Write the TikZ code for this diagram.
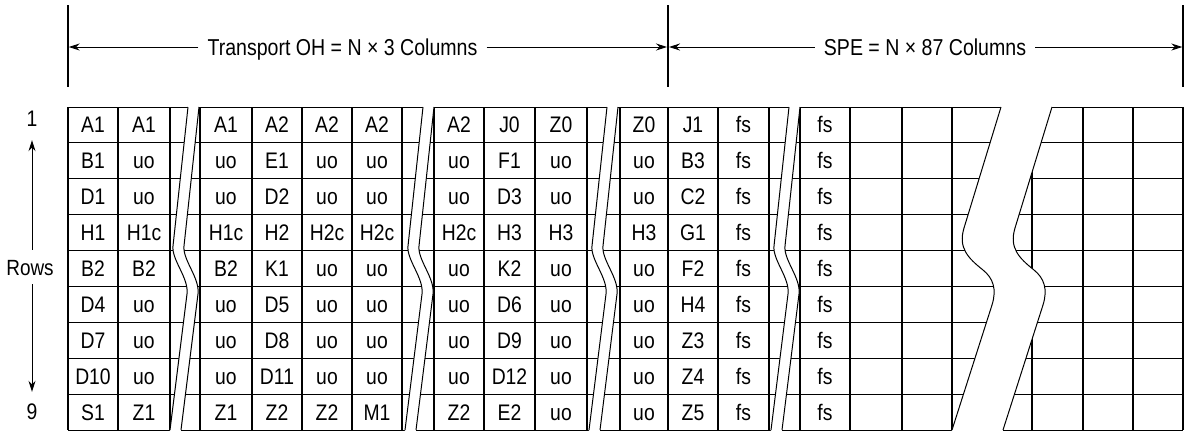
\documentclass[tikz,border=0pt]{standalone}
\usepackage{fontspec}
\setmainfont{Liberation Sans}
\newfontfamily\cellfont{Liberation Sans}[FakeStretch=0.86]
\newfontfamily\headfont{Liberation Sans}[FakeStretch=0.85]
\usetikzlibrary{arrows.meta}

% small break pair: line A starts at top x=#1, line B is A shifted by 11
\newcommand{\brkpair}[1]{%
  \fill[white] (#1+0.3,103) -- (#1,107) -- (#1-15,246)
     .. controls (#1-16.5,260) and (#1+1,278) .. (#1-1,294) -- (#1-18,430) -- (#1-18.4,434)
     -- (#1-7.4,434) -- (#1-7,430) -- (#1+10,294)
     .. controls (#1+12,278) and (#1-5.5,260) .. (#1-4,246) -- (#1+11,107) -- (#1+11.3,103) -- cycle;
  \draw[brk] (#1,107) -- (#1-15,246)
     .. controls (#1-16.5,260) and (#1+1,278) .. (#1-1,294) -- (#1-18,430);
  \draw[brk] (#1+11,107) -- (#1-4,246)
     .. controls (#1-5.5,260) and (#1+12,278) .. (#1+10,294) -- (#1-7,430);
}

\begin{document}
\begin{tikzpicture}[x=1pt,y=-1pt,
  cell/.style={font=\cellfont\fontsize{22.5}{22.5}\selectfont, inner sep=0pt, text height=16pt, text depth=0pt, anchor=center},
  head/.style={font=\headfont\fontsize{23}{23}\selectfont, inner xsep=9pt, inner ysep=0pt, text height=16.5pt, text depth=0pt},
  hgrid/.style={line width=0.9pt},
  vgrid/.style={line width=1.3pt},
  brk/.style={line width=1pt},
  dim/.style={line width=0.9pt},
  tick/.style={line width=1.4pt},
  tip/.style={-{Stealth[length=11pt,width=7pt]}},
]
\useasboundingbox (0,0) rectangle (1184,432);

% ---------- grid ----------
\foreach \i in {0,...,9} {
  \draw[hgrid] (68,{107+35.9*\i}) -- (1183,{107+35.9*\i});
}
\foreach \x in {68,118,170,200,252,302,352,402,434,484,535,587,620,718,769,800,850,902,952,1032,1083,1133,1183} {
  \draw[vgrid] (\x,107) -- (\x,430.1);
}
\draw[line width=2.6pt] (668,107) -- (668,430.1);

% ---------- breaks ----------
\brkpair{188}
\brkpair{423}
\brkpair{607}
\brkpair{789}

\fill[white] (1001.3,103) -- (1001,107) -- (964,228) .. controls (958,248) and (968,258) .. (983,270)
   .. controls (993,278) and (997,289) .. (992,305) -- (952,430) -- (951.6,434)
   -- (1002.6,434) -- (1003,430) -- (1043,305) .. controls (1048,289) and (1044,278) .. (1034,270)
   .. controls (1019,258) and (1009,248) .. (1015,228) -- (1052,107) -- (1052.3,103) -- cycle;
\draw[brk] (1001,107) -- (964,228) .. controls (958,248) and (968,258) .. (983,270)
   .. controls (993,278) and (997,289) .. (992,305) -- (952,430);
\draw[brk] (1052,107) -- (1015,228) .. controls (1009,248) and (1019,258) .. (1034,270)
   .. controls (1044,278) and (1048,289) .. (1043,305) -- (1003,430);

% ---------- cell texts ----------
\foreach [count=\r] \va/\vb in {A1/A1, B1/uo, D1/uo, H1/H1c, B2/B2, D4/uo, D7/uo, D10/uo, S1/Z1} {
  \node[cell] (b1-\r-1) at (93,{107+35.9*(\r-0.5)}) {\va};
  \node[cell] (b1-\r-2) at (144,{107+35.9*(\r-0.5)}) {\vb};
}
\foreach [count=\r] \va/\vb/\vc/\vd in {A1/A2/A2/A2, uo/E1/uo/uo, uo/D2/uo/uo, H1c/H2/H2c/H2c, B2/K1/uo/uo, uo/D5/uo/uo, uo/D8/uo/uo, uo/D11/uo/uo, Z1/Z2/Z2/M1} {
  \node[cell] (b2-\r-1) at (226,{107+35.9*(\r-0.5)}) {\va};
  \node[cell] (b2-\r-2) at (277,{107+35.9*(\r-0.5)}) {\vb};
  \node[cell] (b2-\r-3) at (327,{107+35.9*(\r-0.5)}) {\vc};
  \node[cell] (b2-\r-4) at (377,{107+35.9*(\r-0.5)}) {\vd};
}
\foreach [count=\r] \va/\vb/\vc in {A2/J0/Z0, uo/F1/uo, uo/D3/uo, H2c/H3/H3, uo/K2/uo, uo/D6/uo, uo/D9/uo, uo/D12/uo, Z2/E2/uo} {
  \node[cell] (b3-\r-1) at (459,{107+35.9*(\r-0.5)}) {\va};
  \node[cell] (b3-\r-2) at (509.5,{107+35.9*(\r-0.5)}) {\vb};
  \node[cell] (b3-\r-3) at (561,{107+35.9*(\r-0.5)}) {\vc};
}
\foreach [count=\r] \va/\vb/\vc in {Z0/J1/fs, uo/B3/fs, uo/C2/fs, H3/G1/fs, uo/F2/fs, uo/H4/fs, uo/Z3/fs, uo/Z4/fs, uo/Z5/fs} {
  \node[cell] (b4-\r-1) at (644,{107+35.9*(\r-0.5)}) {\va};
  \node[cell] (b4-\r-2) at (693,{107+35.9*(\r-0.5)}) {\vb};
  \node[cell] (b4-\r-3) at (743.5,{107+35.9*(\r-0.5)}) {\vc};
}
\foreach \r in {1,...,9} {
  \node[cell] (b5-\r-1) at (825,{107+35.9*(\r-0.5)}) {fs};
}

% ---------- row labels ----------
\node[cell, inner ysep=14pt] (one) at (32,118) {1};
\node[cell, inner ysep=9pt] (rows) at (30,267) {\fontsize{22}{22}\selectfont Rows};
\node[cell, inner ysep=11pt] (nine) at (32,411) {9};
\draw[dim,tip] (rows.north -| one.south) -- (one.south);
\draw[dim,tip] (rows.south -| nine.north) -- (nine.north);

% ---------- dimension lines ----------
\coordinate (tLt) at (68,5);   \coordinate (tLb) at (68,87);
\coordinate (tMt) at (668,5);  \coordinate (tMb) at (668,87);
\coordinate (tRt) at (1183,5); \coordinate (tRb) at (1183,87);
\draw[tick] (tLt) -- (tLb);
\draw[line width=2pt] (tMt) -- (tMb);
\draw[tick] (tRt) -- (tRb);
\coordinate (aL) at (68.7,47);
\coordinate (aM1) at (667,47);
\coordinate (aM2) at (669,47);
\coordinate (aR) at (1182.3,47);

\node[head] (toh) at (342.5,47) {Transport OH = N × 3 Columns};
\node[head] (spe) at (925,47) {SPE = N × 87 Columns};
\draw[dim,tip] (toh.west) -- (aL);
\draw[dim,tip] (toh.east) -- (aM1);
\draw[dim,tip] (spe.west) -- (aM2);
\draw[dim,tip] (spe.east) -- (aR);
\end{tikzpicture}
\end{document}
